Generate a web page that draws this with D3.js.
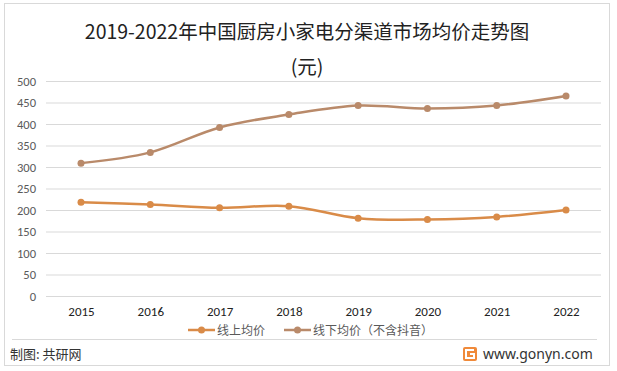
<!DOCTYPE html>
<html><head><meta charset="utf-8">
<script src="https://cdn.jsdelivr.net/npm/d3@7"></script>
<style>body{margin:0;background:#fff;}svg{display:block;font-family:"Microsoft YaHei","Noto Sans CJK SC",sans-serif;}</style>
</head><body>
<script>
const years = ["2015","2016","2017","2018","2019","2020","2021","2022"];
const online = [218, 213, 205, 209, 181, 178, 184, 200];
const offline = [309, 334, 392, 422, 443, 436, 443, 465];
const seriesNames = ["线上均价", "线下均价（不含抖音）"];
const yTicks = [0,50,100,150,200,250,300,350,400,450,500];
const colors = ["#D98B48", "#B98A6A"];

const W = 617, H = 371;
const svg = d3.select("body").append("svg").attr("width", W).attr("height", H);
svg.append("rect").attr("x",4.5).attr("y",3.5).attr("width",605).attr("height",362).attr("fill","#fff").attr("stroke","#d9d9d9");

svg.append("text").attr("x",307).attr("y",39).attr("text-anchor","middle").attr("font-size",19.5).attr("fill","#222").text("2019-2022年中国厨房小家电分渠道市场均价走势图");
svg.append("text").attr("x",307).attr("y",74).attr("text-anchor","middle").attr("font-size",19.5).attr("fill","#222").text("(元)");

const x = d3.scalePoint().domain(years).range([81, 566]);
const y = d3.scaleLinear().domain([0,500]).range([296, 81]);

const grid = svg.append("g");
grid.selectAll("line").data(yTicks).join("line")
  .attr("x1",46).attr("x2",601).attr("y1",d=>y(d)+0.5).attr("y2",d=>y(d)+0.5)
  .attr("stroke","#d9d9d9");

const yAxis = d3.axisLeft(y).tickValues(yTicks).tickSize(0).tickPadding(0);
const ya = svg.append("g").attr("transform","translate(36,0)").call(yAxis);
ya.select(".domain").remove();
ya.selectAll("text").attr("font-size",12.5).attr("fill","#595959").attr("font-family","Calibri,Carlito,'Liberation Sans',sans-serif");

const xAxis = d3.axisBottom(x).tickSize(0).tickPadding(0);
const xa = svg.append("g").attr("transform","translate(0,307)").call(xAxis);
xa.select(".domain").remove();
xa.selectAll("text").attr("font-size",13).attr("fill","#222").attr("font-family","Calibri,Carlito,'Liberation Sans',sans-serif");

const line = d3.line().x((d,i)=>x(years[i])).y(d=>y(d)).curve(d3.curveCardinal.tension(0));
[online, offline].forEach((s,k)=>{
  svg.append("path").attr("d",line(s)).attr("fill","none").attr("stroke",colors[k]).attr("stroke-width",2.5);
  svg.selectAll(null).data(s).join("circle").attr("cx",(d,i)=>x(years[i])).attr("cy",d=>y(d)).attr("r",3.5).attr("fill",colors[k]);
});

// legend
const lg = [{x:188, tx:217}, {x:284, tx:313}];
seriesNames.forEach((n,k)=>{
  const g = svg.append("g");
  g.append("line").attr("x1",lg[k].x).attr("x2",lg[k].x+27).attr("y1",330).attr("y2",330).attr("stroke",colors[k]).attr("stroke-width",2.5);
  g.append("circle").attr("cx",lg[k].x+13.5).attr("cy",330).attr("r",3.5).attr("fill",colors[k]);
  g.append("text").attr("x",lg[k].tx).attr("y",334.5).attr("font-size",12).attr("fill","#595959").text(n);
});

svg.append("line").attr("x1",12).attr("x2",597).attr("y1",339.5).attr("y2",339.5).attr("stroke","#d9d9d9");
svg.append("text").attr("x",10).attr("y",359).attr("font-size",13).attr("fill","#333").text("制图: 共研网");
// logo
const logo = svg.append("g").attr("transform","translate(463,347)");
logo.append("rect").attr("width",14).attr("height",14).attr("rx",2).attr("fill","#F08A3A");
logo.append("path").attr("d","M11 3 H3 V11 H11 V7 H7").attr("fill","none").attr("stroke","#fff").attr("stroke-width",2);
svg.append("text").attr("x",483).attr("y",359).attr("font-size",14).attr("fill","#333").attr("font-family","'Noto Sans','Open Sans',sans-serif").text("www.gonyn.com");
</script>
</body></html>
